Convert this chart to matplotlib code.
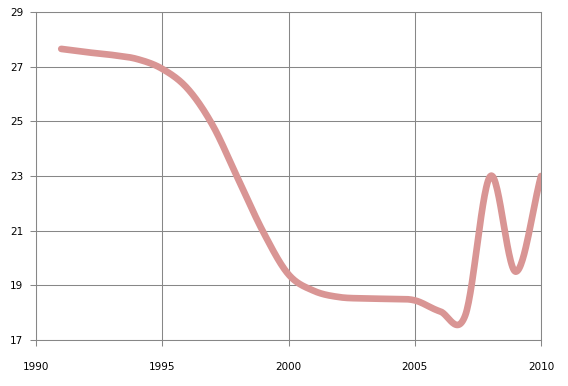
import numpy as np
import matplotlib
matplotlib.use("Agg")
import matplotlib.pyplot as plt

# values
years = [1991, 1992, 1993, 1994, 1995, 1996, 1997, 1998, 1999, 2000,
         2001, 2002, 2003, 2004, 2005, 2006, 2007, 2008, 2009, 2010]
values = [27.65, 27.53, 27.43, 27.28, 26.92, 26.2, 24.85, 22.9, 20.95, 19.4,
          18.8, 18.57, 18.52, 18.5, 18.45, 18.05, 17.9, 23.0, 19.5, 23.0]


def smooth(x, y, n=30):
    # Catmull-Rom style smoothing like a spreadsheet "smoothed line"
    x = np.asarray(x, float)
    y = np.asarray(y, float)
    xs, ys = [], []
    for i in range(len(x) - 1):
        y0 = y[i - 1] if i > 0 else y[i]
        y3 = y[i + 2] if i + 2 < len(y) else y[i + 1]
        m0 = (y[i + 1] - y0) / (2 if i > 0 else 1)
        m1 = (y3 - y[i]) / (2 if i + 2 < len(y) else 1)
        t = np.linspace(0, 1, n, endpoint=False)
        h00 = 2 * t**3 - 3 * t**2 + 1
        h10 = t**3 - 2 * t**2 + t
        h01 = -2 * t**3 + 3 * t**2
        h11 = t**3 - t**2
        xs.append(x[i] + t * (x[i + 1] - x[i]))
        ys.append(h00 * y[i] + h10 * m0 + h01 * y[i + 1] + h11 * m1)
    xs.append([x[-1]])
    ys.append([y[-1]])
    return np.concatenate(xs), np.concatenate(ys)


fig = plt.figure(figsize=(5.68, 3.86), dpi=100)
ax = fig.add_axes([36 / 568, 1 - 340 / 386, 505 / 568, 328 / 386])

sx, sy = smooth(years, values)
ax.plot(sx, sy, color="#D99594", linewidth=4.8, solid_capstyle="round",
        solid_joinstyle="round", zorder=3)

ax.set_xlim(1990, 2010)
ax.set_ylim(17, 29)
ax.set_xticks(range(1990, 2011, 5))
ax.set_yticks(range(17, 30, 2))
ax.grid(True, color="#878787", linewidth=0.75)
for s in ax.spines.values():
    s.set_color("#878787")
    s.set_linewidth(0.75)
ax.tick_params(axis="both", direction="out", length=4, width=0.75, color="#878787",
               labelsize=7.5, labelcolor="black")
ax.tick_params(axis="x", pad=12)
ax.tick_params(axis="y", pad=5)

plt.savefig("out.png", dpi=100)
